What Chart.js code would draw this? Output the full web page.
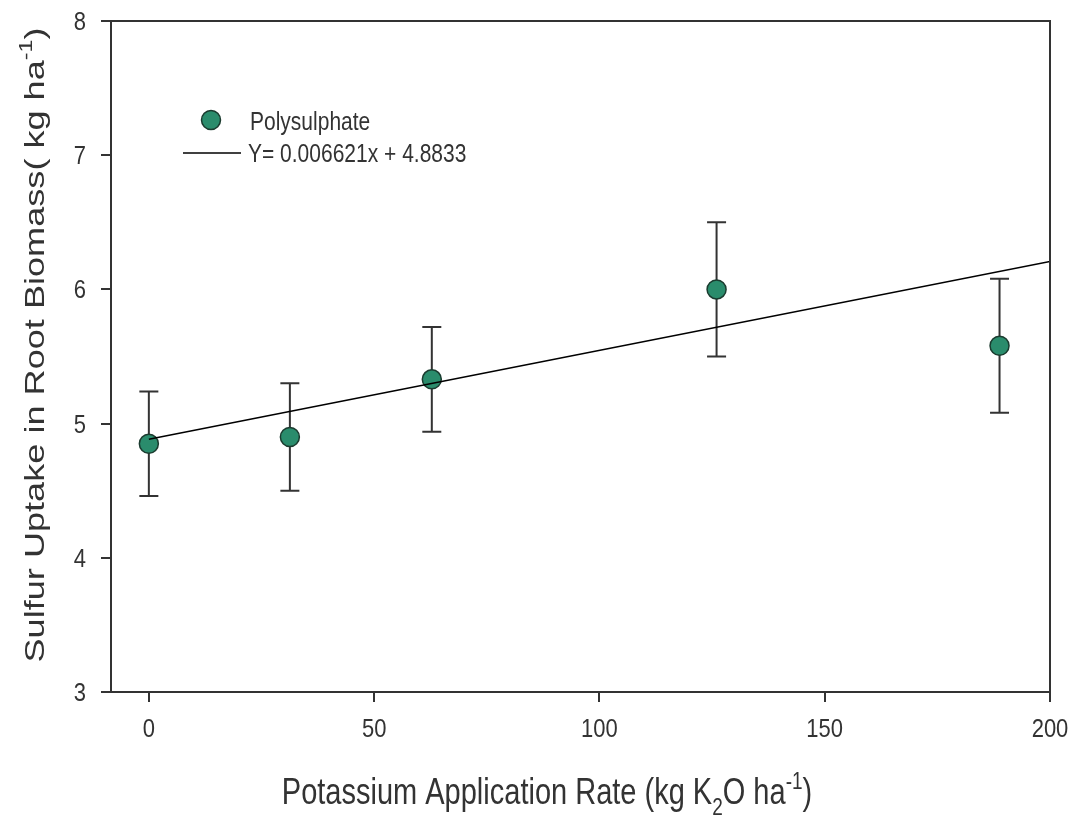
<!DOCTYPE html>
<html>
<head>
<meta charset="utf-8">
<script src="https://cdn.jsdelivr.net/npm/chart.js@4.4.1/dist/chart.umd.min.js"></script>
<style>
  body { margin: 0; background: #fff; }
  #wrap { width: 1074px; height: 817px; }
</style>
</head>
<body>
<div id="wrap"><canvas id="chart" width="1074" height="817"></canvas></div>
<script>
// data
const rates = [0, 31.3, 62.8, 126, 188.8];
const sulfur = [4.85, 4.90, 5.33, 6.00, 5.58];
const sulfurErr = [0.39, 0.40, 0.39, 0.50, 0.50];
const fitX = [0, 200];
const fitY = [4.8833, 6.2075];
const xTicks = [0, 50, 100, 150, 200];
const yTicks = [3, 4, 5, 6, 7, 8];

const FONT = '"Liberation Sans", Arial, sans-serif';
const INK = '#333';
const GREEN = '#2a8c6c';
const STRETCH = 1.2; // the source image is stretched vertically

// text with sub/superscripts, drawn on the canvas, centred on the origin
const drawRich = (ctx, parts, size) => {
    const small = Math.round(size * 0.65);
    const widths = parts.map(p => {
        ctx.font = (p.sub || p.sup ? small : size) + 'px ' + FONT;
        return ctx.measureText(p.t).width;
    });
    const total = widths.reduce((a, b) => a + b, 0);
    let x = -total / 2;
    parts.forEach((p, i) => {
        ctx.font = (p.sub || p.sup ? small : size) + 'px ' + FONT;
        let dy = 0;
        if (p.sub) dy = size * 0.3;
        if (p.sup) dy = -size * 0.42;
        ctx.fillText(p.t, x, dy);
        x += widths[i];
    });
}

const stretchedText = (ctx, text, x, y, align) => {
    ctx.save();
    ctx.translate(x, y);
    ctx.scale(1, STRETCH);
    ctx.textAlign = align;
    ctx.fillText(text, 0, 0);
    ctx.restore();
}

const extras = {
    id: 'extras',
    beforeDatasetsDraw(chart) {
        const { ctx, scales: { x, y } } = chart;
        ctx.save();
        ctx.strokeStyle = INK;
        ctx.lineWidth = 2;
        rates.forEach((r, i) => {
            const px = x.getPixelForValue(r);
            const top = y.getPixelForValue(sulfur[i] + sulfurErr[i]);
            const bot = y.getPixelForValue(sulfur[i] - sulfurErr[i]);
            ctx.beginPath();
            ctx.moveTo(px, top); ctx.lineTo(px, bot);
            ctx.moveTo(px - 9.5, top); ctx.lineTo(px + 9.5, top);
            ctx.moveTo(px - 9.5, bot); ctx.lineTo(px + 9.5, bot);
            ctx.stroke();
        });
        ctx.restore();
    },
    afterDraw(chart) {
        const { ctx, chartArea: a, scales } = chart;
        ctx.save();
        // frame
        ctx.strokeStyle = INK;
        ctx.lineWidth = 2;
        ctx.strokeRect(a.left, a.top, a.right - a.left, a.bottom - a.top);

        // tick labels
        ctx.fillStyle = INK;
        ctx.textBaseline = 'alphabetic';
        ctx.font = '22px ' + FONT;
        xTicks.forEach(v => stretchedText(ctx, String(v), scales.x.getPixelForValue(v), a.bottom + 45, 'center'));
        yTicks.forEach(v => stretchedText(ctx, String(v), a.left - 25, scales.y.getPixelForValue(v) + 9, 'right'));

        // legend
        ctx.fillStyle = GREEN;
        ctx.strokeStyle = '#1b3b2f';
        ctx.lineWidth = 1.5;
        ctx.beginPath();
        ctx.arc(211, 120, 9.5, 0, Math.PI * 2);
        ctx.fill(); ctx.stroke();
        ctx.strokeStyle = '#000';
        ctx.beginPath();
        ctx.moveTo(183, 153); ctx.lineTo(241, 153);
        ctx.stroke();
        ctx.fillStyle = INK;
        ctx.font = '21px ' + FONT;
        stretchedText(ctx, 'Polysulphate', 250, 130, 'left');
        stretchedText(ctx, 'Y= 0.006621x + 4.8833', 248, 162, 'left');

        // axis titles
        ctx.textAlign = 'left';
        ctx.save();
        ctx.translate(547, 804);
        ctx.scale(1, 1.25);
        drawRich(ctx, [
            { t: 'Potassium Application Rate (kg K' },
            { t: '2', sub: true },
            { t: 'O ha' },
            { t: '-1', sup: true },
            { t: ')' }
        ], 29);
        ctx.restore();
        ctx.save();
        ctx.translate(44, 345);
        ctx.rotate(-Math.PI / 2);
        ctx.scale(1.29, 1);
        drawRich(ctx, [
            { t: 'Sulfur Uptake in Root Biomass( kg ha' },
            { t: '-1', sup: true },
            { t: ')' }
        ], 28);
        ctx.restore();
        ctx.restore();
    }
};

new Chart(document.getElementById('chart'), {
    type: 'scatter',
    data: {
        datasets: [{
            label: 'Polysulphate',
            data: rates.map((r, i) => ({ x: r, y: sulfur[i] })),
            backgroundColor: GREEN,
            borderColor: '#1b3b2f',
            borderWidth: 1.5,
            pointRadius: 9.5,
            pointHoverRadius: 9.5,
            order: 1
        }, {
            type: 'line',
            label: 'Y= 0.006621x + 4.8833',
            data: fitX.map((v, i) => ({ x: v, y: fitY[i] })),
            borderColor: '#000',
            borderWidth: 1.5,
            pointRadius: 0,
            fill: false,
            order: 0
        }]
    },
    options: {
        responsive: false,
        animation: false,
        layout: {
            padding: { top: 21, right: 24, left: 0, bottom: 0 }
        },
        plugins: {
            legend: { display: false },
            tooltip: { enabled: false }
        },
        scales: {
            x: {
                type: 'linear',
                min: -8.4,
                max: 200,
                afterBuildTicks: s => { s.ticks = xTicks.map(v => ({ value: v })) },
                afterFit: s => { s.height = 125; s.paddingLeft = 0; s.paddingRight = 0 },
                grid: { display: true, drawOnChartArea: false, drawTicks: true, tickLength: 10, color: INK, lineWidth: 2 },
                border: { display: true, color: INK, width: 2 },
                ticks: { display: false }
            },
            y: {
                type: 'linear',
                min: 3,
                max: 8,
                afterBuildTicks: s => { s.ticks = yTicks.map(v => ({ value: v })) },
                afterFit: s => { s.width = 111; s.paddingTop = 0; s.paddingBottom = 0 },
                grid: { display: true, drawOnChartArea: false, drawTicks: true, tickLength: 10, color: INK, lineWidth: 2 },
                border: { display: true, color: INK, width: 2 },
                ticks: { display: false }
            }
        }
    },
    plugins: [extras]
});
</script>
</body>
</html>
